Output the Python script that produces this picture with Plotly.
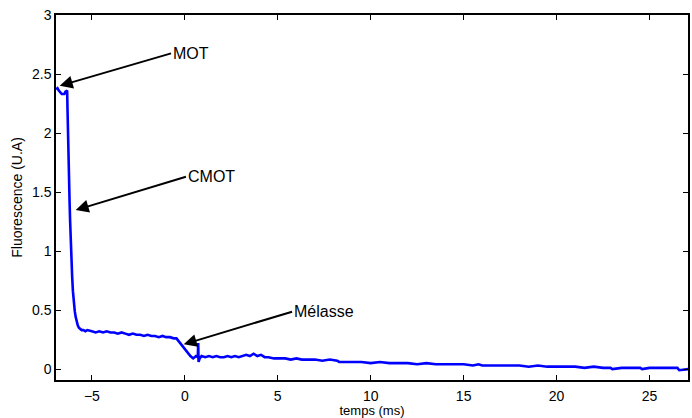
import plotly.graph_objects as go

t = [-6.93, -6.85, -6.78, -6.7, -6.62, -6.55, -6.48, -6.42, -6.36, -6.33, -6.31, -6.29, -6.26, -6.23, -6.2,
     -6.17, -6.14, -6.1, -6.06, -6.02, -5.97, -5.92, -5.87, -5.82, -5.76, -5.7, -5.62, -5.55, -5.45, -5.35,
     -5.25, -5.1, -5.0, -4.8, -4.6, -4.4, -4.2, -4.0, -3.8, -3.6, -3.4, -3.2, -3.0, -2.8, -2.6, -2.4, -2.2,
     -2.0, -1.8, -1.6, -1.4, -1.2, -1.0, -0.8, -0.6, -0.45, -0.3, -0.15, 0.0, 0.15, 0.3, 0.45, 0.6, 0.7,
     0.72, 0.74, 0.8, 0.9, 1.1, 1.3, 1.5, 1.7, 1.9, 2.1, 2.3, 2.5, 2.7, 2.9, 3.1, 3.3, 3.5, 3.7, 3.9, 4.1,
     4.3, 4.5, 4.8, 5.1, 5.4, 5.7, 6.0, 6.3, 6.6, 7.0, 7.4, 7.8, 8.2, 8.3, 8.5, 9.0, 9.5, 10.0, 10.5, 11.0,
     11.5, 12.0, 12.5, 13.0, 13.5, 14.0, 14.5, 15.0, 15.5, 15.8, 16.0, 16.5, 17.0, 17.5, 18.0, 18.5, 19.0,
     19.5, 20.0, 20.5, 21.0, 21.5, 22.0, 22.5, 22.9, 23.0, 23.5, 24.0, 24.5, 24.6, 25.0, 25.5, 26.0, 26.5,
     26.6, 27.0, 27.1]
fluo = [2.37, 2.38, 2.36, 2.34, 2.33, 2.33, 2.33, 2.35, 2.36, 2.36, 2.2, 2.0, 1.8, 1.6, 1.42,
        1.25, 1.08, 0.92, 0.78, 0.66, 0.56, 0.49, 0.44, 0.40, 0.37, 0.35, 0.34, 0.33, 0.33, 0.32,
        0.33, 0.32, 0.32, 0.31, 0.32, 0.31, 0.32, 0.31, 0.31, 0.30, 0.31, 0.30, 0.29, 0.30, 0.29, 0.29, 0.28,
        0.29, 0.28, 0.28, 0.27, 0.28, 0.27, 0.27, 0.26, 0.26, 0.23, 0.19, 0.16, 0.13, 0.11, 0.09, 0.11, 0.10,
        0.22, 0.06, 0.09, 0.11, 0.10, 0.11, 0.10, 0.11, 0.10, 0.10, 0.11, 0.10, 0.11, 0.10, 0.11, 0.12, 0.11, 0.13, 0.11, 0.12,
        0.10, 0.10, 0.09, 0.09, 0.09, 0.08, 0.09, 0.08, 0.08, 0.08, 0.07, 0.08, 0.07, 0.06, 0.06, 0.06, 0.06, 0.05, 0.06, 0.05,
        0.05, 0.05, 0.04, 0.05, 0.04, 0.04, 0.04, 0.04, 0.03, 0.04, 0.03, 0.03, 0.03, 0.03, 0.03, 0.02, 0.03,
        0.02, 0.02, 0.02, 0.02, 0.01, 0.02, 0.01, 0.01, 0.00, 0.01, 0.01, 0.01, 0.00, 0.01, 0.01, 0.01, 0.01,
        -0.01, 0.00, 0.00]

x_ticks = [-5, 0, 5, 10, 15, 20, 25]
y_ticks = [0, 0.5, 1, 1.5, 2, 2.5, 3]
y_tick_text = ["0", "0.5", "1", "1.5", "2", "2.5", "3"]

labels = ["MOT", "CMOT", "Mélasse"]
heads = [(-6.73, 2.40), (-5.87, 1.347), (-0.06, 0.209)]
tails = [(-0.74, 2.675), (0.06, 1.63), (5.77, 0.486)]

FONT = "Liberation Sans, Arial, sans-serif"

fig = go.Figure()
fig.add_trace(go.Scatter(x=t, y=fluo, mode="lines", line=dict(color="#0000ff", width=2.6),
                         showlegend=False, hoverinfo="skip"))

for lab, (hx, hy), (tx, ty) in zip(labels, heads, tails):
    fig.add_annotation(x=hx, y=hy, ax=tx, ay=ty, xref="x", yref="y", axref="x", ayref="y",
                       text=lab, showarrow=True, arrowhead=2, arrowsize=1.3, arrowwidth=2,
                       arrowcolor="black", xanchor="left", yanchor="middle",
                       font=dict(family=FONT, size=16, color="black"), standoff=0, startstandoff=0)

axis_common = dict(showline=True, linecolor="black", linewidth=1.5, mirror="allticks", ticks="inside",
                   ticklen=5, tickcolor="black", showgrid=False, zeroline=False,
                   tickfont=dict(family=FONT, size=14, color="black"))

fig.update_xaxes(range=[-6.93, 27.07], tickvals=x_ticks, ticktext=[str(v).replace("-", "−") for v in x_ticks],
                 ticklabelstandoff=2,
                 title=dict(text="temps (ms)", font=dict(family=FONT, size=13, color="black"), standoff=2),
                 **axis_common)
fig.update_yaxes(range=[-0.093, 3.0], tickvals=y_ticks, ticktext=y_tick_text,
                 title=dict(text="Fluorescence (U.A)", font=dict(family=FONT, size=14, color="black"), standoff=6),
                 **axis_common)

fig.update_layout(width=692, height=418, margin=dict(l=56, r=2, t=15, b=38),
                  plot_bgcolor="white", paper_bgcolor="white")

fig.write_html("out.html", config={"displayModeBar": False},
               post_script="document.body.style.margin='0px';document.body.style.overflow='hidden';")
